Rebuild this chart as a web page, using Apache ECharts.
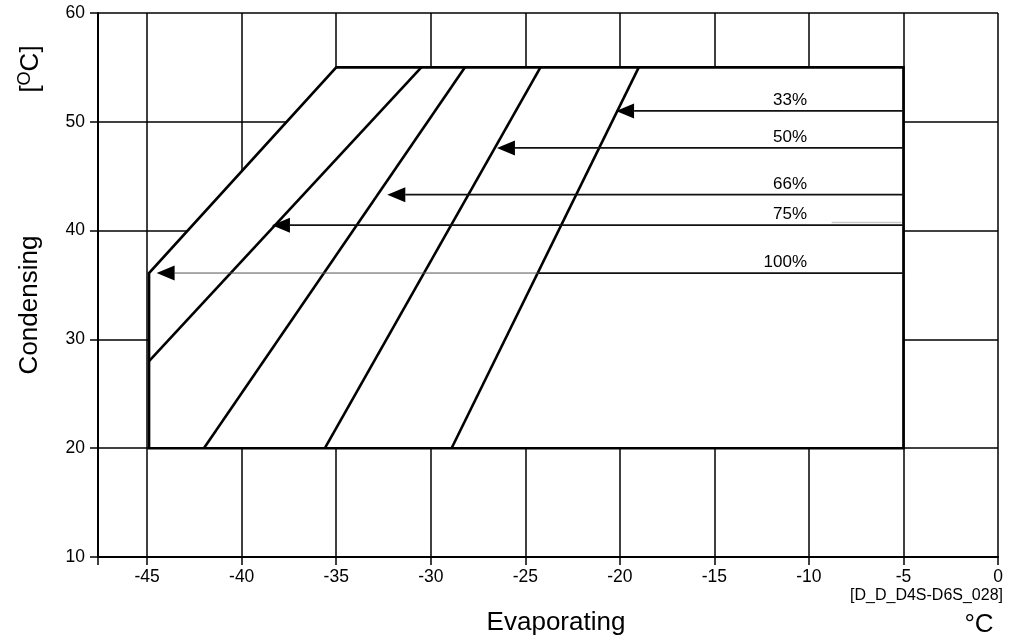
<!DOCTYPE html>
<html><head><meta charset="utf-8">
<script src="https://cdn.jsdelivr.net/npm/echarts@6/dist/echarts.min.js"></script>
<style>html,body{margin:0;padding:0;background:#fff}#c{width:1013px;height:644px}</style>
</head><body><div id="c"></div>
<script>
// ---- data ----
const xTickValues = [-45, -40, -35, -30, -25, -20, -15, -10, -5, 0];
const yTickValues = [10, 20, 30, 40, 50, 60];
const xMin = -47.6, xMax = 0, yMin = 10, yMax = 60;

// operating envelope (evaporating, condensing)
const envelopeX = [-44.9, -44.9, -35, -5, -5];
const envelopeY = [20, 36.1, 55, 55, 20];

// capacity-step boundary lines
const capLineBottomX = [-44.9, -42.0, -35.6, -28.9];
const capLineBottomY = [28, 20, 20, 20];
const capLineTopX = [-30.5, -28.2, -24.2, -19.0];
const capLineTopY = [55, 55, 55, 55];

// capacity step arrows
const stepLabels = ['33%', '50%', '66%', '75%', '100%'];
const stepY = [51.0, 47.6, 43.3, 40.5, 36.1];
const arrowStartX = [-5, -5, -5, -5, -5];
const arrowTipX = [-20.2, -26.5, -32.3, -38.4, -44.5];
const stepThinUntilX = [null, null, null, null, -24.3];
const labelAnchorX = -10.1;

// faint scan stroke next to the 75% line
const faintX = [-8.8, -5.1];
const faintY = [40.75, 40.75];

// ---- chart ----
const FONT = 'Liberation Sans, Arial, sans-serif';
const chart = echarts.init(document.getElementById('c'), null, {renderer: 'canvas'});

const series = [];
series.push({
  type: 'custom', name: 'envelope', z: 3,
  data: [[0]],
  renderItem(params, api) {
    const pts = envelopeX.map((x, i) => api.coord([x, envelopeY[i]]));
    return {type: 'polygon', shape: {points: pts},
      style: {fill: '#fff', stroke: '#000', lineWidth: 2.6, lineJoin: 'miter'}};
  },
  silent: true
});
capLineBottomX.forEach((x0, i) => {
  series.push({
    type: 'line', z: 4, symbol: 'none', silent: true,
    data: [[x0, capLineBottomY[i]], [capLineTopX[i], capLineTopY[i]]],
    lineStyle: {color: '#000', width: 2.6}
  });
});
series.push({
  type: 'line', z: 4, symbol: 'none', silent: true,
  data: faintX.map((x, i) => [x, faintY[i]]),
  lineStyle: {color: '#c8c8c8', width: 1.5}
});
series.push({
  type: 'custom', name: 'steps', z: 5, silent: true,
  data: stepY.map((y, i) => [arrowStartX[i], y, arrowTipX[i], i]),
  renderItem(params, api) {
    const i = api.value(3);
    const y = api.value(1);
    const s = api.coord([api.value(0), y]);
    const t = api.coord([api.value(2), y]);
    const lab = api.coord([labelAnchorX, y]);
    const L = 18, H = 7.5;
    const ch = [];
    const thin = stepThinUntilX[i];
    if (thin != null) {
      const m = api.coord([thin, y]);
      ch.push({type: 'line', shape: {x1: m[0], y1: s[1], x2: t[0] + L, y2: t[1]}, style: {stroke: '#555', lineWidth: 1}});
      ch.push({type: 'line', shape: {x1: s[0], y1: s[1], x2: m[0], y2: t[1]}, style: {stroke: '#111', lineWidth: 1.8}});
    } else {
      ch.push({type: 'line', shape: {x1: s[0], y1: s[1], x2: t[0] + L, y2: t[1]}, style: {stroke: '#111', lineWidth: 1.8}});
    }
    ch.push({type: 'polygon', shape: {points: [[t[0], t[1]], [t[0] + L, t[1] - H], [t[0] + L, t[1] + H]]}, style: {fill: '#000'}});
    ch.push({type: 'text', style: {text: stepLabels[i], x: lab[0], y: s[1] - 2, align: 'right', verticalAlign: 'bottom', font: '17px ' + FONT, fill: '#000'}});
    return {type: 'group', children: ch};
  }
});

chart.setOption({
  animation: false,
  backgroundColor: '#fff',
  grid: {left: 98, right: 15, top: 13, bottom: 87},
  xAxis: {
    type: 'value', min: xMin, max: xMax, minInterval: 5, maxInterval: 5,
    axisLine: {show: true, onZero: false, lineStyle: {color: '#000', width: 2}},
    axisTick: {show: true, length: 8, lineStyle: {color: '#000', width: 1.5}, customValues: [xMin].concat(xTickValues)},
    axisLabel: {customValues: xTickValues, margin: 11, color: '#000', fontSize: 17.5, fontFamily: FONT},
    splitLine: {show: true, lineStyle: {color: '#000', width: 1.5}}
  },
  yAxis: {
    type: 'value', min: yMin, max: yMax, interval: 10,
    axisLine: {show: true, onZero: false, lineStyle: {color: '#000', width: 2}},
    axisTick: {show: true, length: 8, lineStyle: {color: '#000', width: 1.5}},
    axisLabel: {customValues: yTickValues, margin: 13, color: '#000', fontSize: 17.5, fontFamily: FONT},
    splitLine: {show: true, lineStyle: {color: '#000', width: 1.5}}
  },
  graphic: [
    {type: 'text', x: 30, y: 305, rotation: Math.PI / 2,
      style: {text: 'Condensing', font: '26px ' + FONT, fill: '#000', align: 'center', verticalAlign: 'middle'}},
    {type: 'text', x: 30, y: 69, rotation: Math.PI / 2,
      style: {text: '{a|[}{s|O}{a|C]}', align: 'center', verticalAlign: 'middle', fill: '#000',
        rich: {a: {font: '26px ' + FONT, fill: '#000', verticalAlign: 'bottom'}, s: {font: '18px ' + FONT, fill: '#000', verticalAlign: 'top', padding: [0, 0, 10, 0]}}}},
    {type: 'text', x: 556, y: 623,
      style: {text: 'Evaporating', font: '26px ' + FONT, fill: '#000', align: 'center', verticalAlign: 'middle'}},
    {type: 'text', x: 979, y: 625,
      style: {text: '°C', font: '26px ' + FONT, fill: '#000', align: 'center', verticalAlign: 'middle'}},
    {type: 'text', x: 1003, y: 596,
      style: {text: '[D_D_D4S-D6S_028]', font: '16px ' + FONT, fill: '#000', align: 'right', verticalAlign: 'middle'}}
  ],
  series
});
</script>
</body></html>
